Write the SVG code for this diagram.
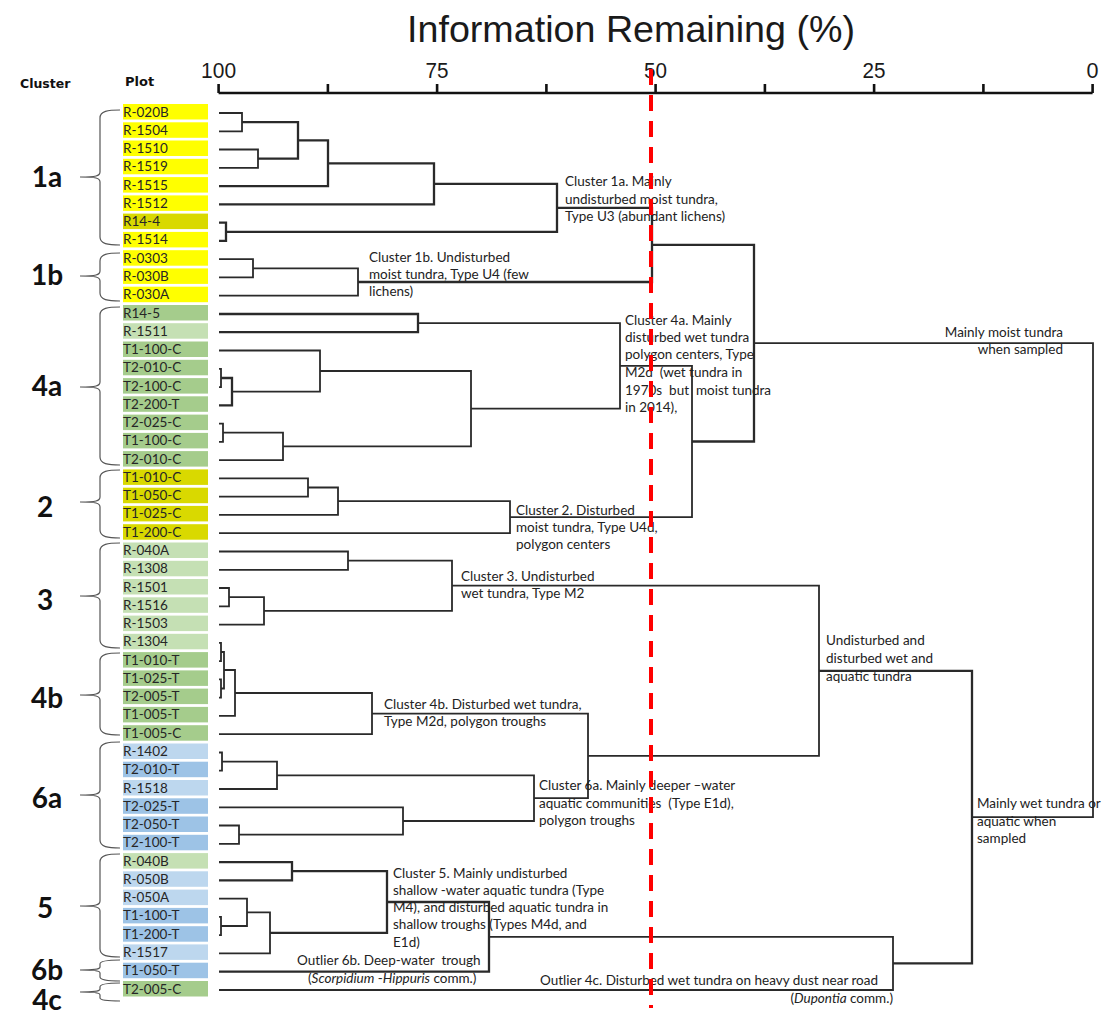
<svg xmlns="http://www.w3.org/2000/svg" width="1111" height="1015" viewBox="0 0 1111 1015">
<style>
.bg{fill:#ffffff}
.title{font-family:"Liberation Sans",Arial,sans-serif;font-size:37px;fill:#1a1a1a}
.tick{font-family:"Liberation Sans",Arial,sans-serif;font-size:22px;fill:#1a1a1a;text-anchor:middle}
.hdr{font-family:"DejaVu Sans",sans-serif;font-weight:bold;font-size:12.5px;fill:#111}
.cl{font-family:Lato,"Liberation Sans",sans-serif;font-weight:bold;font-size:28px;fill:#111;text-anchor:middle}
.brace{fill:none;stroke:#555;stroke-width:1.2}
.pl{font-family:Lato,"Liberation Sans",sans-serif;font-size:13.5px;fill:#262626}
.ann{font-family:Lato,"Liberation Sans",sans-serif;font-size:13.5px;fill:#222;white-space:pre}
.ln{fill:none;stroke:#2a2a2a;stroke-width:1.8}
.tk{stroke-width:2.3}
.red{fill:none;stroke:#ff0000;stroke-width:4;stroke-dasharray:16 10}
.Y{fill:#ffff00}.O{fill:#d9d900}.G{fill:#a5cc8c}.LG{fill:#c5e0b4}.B{fill:#9dc3e6}.LB{fill:#bdd7ee}
</style>
<rect class="bg" x="0" y="0" width="1111" height="1015"/>
<g id="axis">
<text class="title" x="407" y="42" textLength="448" lengthAdjust="spacingAndGlyphs">Information Remaining (%)</text>
<text class="tick" x="218.6" y="78" textLength="35" lengthAdjust="spacingAndGlyphs">100</text>
<text class="tick" x="437.1" y="78" textLength="23" lengthAdjust="spacingAndGlyphs">75</text>
<text class="tick" x="655.6" y="78" textLength="23" lengthAdjust="spacingAndGlyphs">50</text>
<text class="tick" x="874.1" y="78" textLength="23" lengthAdjust="spacingAndGlyphs">25</text>
<text class="tick" x="1092.6" y="78" textLength="12" lengthAdjust="spacingAndGlyphs">0</text>
<path d="M218.6 93 H1092.6 M218.6 84 V93 M327.9 84 V93 M437.1 84 V93 M546.4 84 V93 M655.6 84 V93 M764.9 84 V93 M874.1 84 V93 M983.4 84 V93 M1092.6 84 V93" fill="none" stroke="#111" stroke-width="2.6"/>
<text class="hdr" x="20" y="88">Cluster</text>
<text class="hdr" x="125" y="86" style="font-size:13px">Plot</text>
</g>
<g id="plots">
<g id="plot-0"><rect class="Y" x="123" y="104" width="85" height="15.5"/><text class="pl" x="123" y="116.5">R-020B</text></g>
<g id="plot-1"><rect class="Y" x="123" y="122.3" width="85" height="15.5"/><text class="pl" x="123" y="134.8">R-1504</text></g>
<g id="plot-2"><rect class="Y" x="123" y="140.5" width="85" height="15.5"/><text class="pl" x="123" y="153">R-1510</text></g>
<g id="plot-3"><rect class="Y" x="123" y="158.8" width="85" height="15.5"/><text class="pl" x="123" y="171.3">R-1519</text></g>
<g id="plot-4"><rect class="Y" x="123" y="177.1" width="85" height="15.5"/><text class="pl" x="123" y="189.6">R-1515</text></g>
<g id="plot-5"><rect class="Y" x="123" y="195.4" width="85" height="15.5"/><text class="pl" x="123" y="207.9">R-1512</text></g>
<g id="plot-6"><rect class="O" x="123" y="213.6" width="85" height="15.5"/><text class="pl" x="123" y="226.1">R14-4</text></g>
<g id="plot-7"><rect class="Y" x="123" y="231.9" width="85" height="15.5"/><text class="pl" x="123" y="244.4">R-1514</text></g>
<g id="plot-8"><rect class="Y" x="123" y="250.2" width="85" height="15.5"/><text class="pl" x="123" y="262.7">R-0303</text></g>
<g id="plot-9"><rect class="Y" x="123" y="268.4" width="85" height="15.5"/><text class="pl" x="123" y="280.9">R-030B</text></g>
<g id="plot-10"><rect class="Y" x="123" y="286.7" width="85" height="15.5"/><text class="pl" x="123" y="299.2">R-030A</text></g>
<g id="plot-11"><rect class="G" x="123" y="305" width="85" height="15.5"/><text class="pl" x="123" y="317.5">R14-5</text></g>
<g id="plot-12"><rect class="LG" x="123" y="323.2" width="85" height="15.5"/><text class="pl" x="123" y="335.7">R-1511</text></g>
<g id="plot-13"><rect class="G" x="123" y="341.5" width="85" height="15.5"/><text class="pl" x="123" y="354">T1-100-C</text></g>
<g id="plot-14"><rect class="G" x="123" y="359.8" width="85" height="15.5"/><text class="pl" x="123" y="372.3">T2-010-C</text></g>
<g id="plot-15"><rect class="G" x="123" y="378.1" width="85" height="15.5"/><text class="pl" x="123" y="390.6">T2-100-C</text></g>
<g id="plot-16"><rect class="G" x="123" y="396.3" width="85" height="15.5"/><text class="pl" x="123" y="408.8">T2-200-T</text></g>
<g id="plot-17"><rect class="G" x="123" y="414.6" width="85" height="15.5"/><text class="pl" x="123" y="427.1">T2-025-C</text></g>
<g id="plot-18"><rect class="G" x="123" y="432.9" width="85" height="15.5"/><text class="pl" x="123" y="445.4">T1-100-C</text></g>
<g id="plot-19"><rect class="G" x="123" y="451.1" width="85" height="15.5"/><text class="pl" x="123" y="463.6">T2-010-C</text></g>
<g id="plot-20"><rect class="O" x="123" y="469.4" width="85" height="15.5"/><text class="pl" x="123" y="481.9">T1-010-C</text></g>
<g id="plot-21"><rect class="O" x="123" y="487.7" width="85" height="15.5"/><text class="pl" x="123" y="500.2">T1-050-C</text></g>
<g id="plot-22"><rect class="O" x="123" y="505.9" width="85" height="15.5"/><text class="pl" x="123" y="518.4">T1-025-C</text></g>
<g id="plot-23"><rect class="O" x="123" y="524.2" width="85" height="15.5"/><text class="pl" x="123" y="536.7">T1-200-C</text></g>
<g id="plot-24"><rect class="LG" x="123" y="542.5" width="85" height="15.5"/><text class="pl" x="123" y="555">R-040A</text></g>
<g id="plot-25"><rect class="LG" x="123" y="560.8" width="85" height="15.5"/><text class="pl" x="123" y="573.3">R-1308</text></g>
<g id="plot-26"><rect class="LG" x="123" y="579" width="85" height="15.5"/><text class="pl" x="123" y="591.5">R-1501</text></g>
<g id="plot-27"><rect class="LG" x="123" y="597.3" width="85" height="15.5"/><text class="pl" x="123" y="609.8">R-1516</text></g>
<g id="plot-28"><rect class="LG" x="123" y="615.6" width="85" height="15.5"/><text class="pl" x="123" y="628.1">R-1503</text></g>
<g id="plot-29"><rect class="LG" x="123" y="633.8" width="85" height="15.5"/><text class="pl" x="123" y="646.3">R-1304</text></g>
<g id="plot-30"><rect class="G" x="123" y="652.1" width="85" height="15.5"/><text class="pl" x="123" y="664.6">T1-010-T</text></g>
<g id="plot-31"><rect class="G" x="123" y="670.4" width="85" height="15.5"/><text class="pl" x="123" y="682.9">T1-025-T</text></g>
<g id="plot-32"><rect class="G" x="123" y="688.6" width="85" height="15.5"/><text class="pl" x="123" y="701.1">T2-005-T</text></g>
<g id="plot-33"><rect class="G" x="123" y="706.9" width="85" height="15.5"/><text class="pl" x="123" y="719.4">T1-005-T</text></g>
<g id="plot-34"><rect class="G" x="123" y="725.2" width="85" height="15.5"/><text class="pl" x="123" y="737.7">T1-005-C</text></g>
<g id="plot-35"><rect class="LB" x="123" y="743.5" width="85" height="15.5"/><text class="pl" x="123" y="756">R-1402</text></g>
<g id="plot-36"><rect class="B" x="123" y="761.7" width="85" height="15.5"/><text class="pl" x="123" y="774.2">T2-010-T</text></g>
<g id="plot-37"><rect class="LB" x="123" y="780" width="85" height="15.5"/><text class="pl" x="123" y="792.5">R-1518</text></g>
<g id="plot-38"><rect class="B" x="123" y="798.3" width="85" height="15.5"/><text class="pl" x="123" y="810.8">T2-025-T</text></g>
<g id="plot-39"><rect class="B" x="123" y="816.5" width="85" height="15.5"/><text class="pl" x="123" y="829">T2-050-T</text></g>
<g id="plot-40"><rect class="B" x="123" y="834.8" width="85" height="15.5"/><text class="pl" x="123" y="847.3">T2-100-T</text></g>
<g id="plot-41"><rect class="LG" x="123" y="853.1" width="85" height="15.5"/><text class="pl" x="123" y="865.6">R-040B</text></g>
<g id="plot-42"><rect class="LB" x="123" y="871.3" width="85" height="15.5"/><text class="pl" x="123" y="883.8">R-050B</text></g>
<g id="plot-43"><rect class="LB" x="123" y="889.6" width="85" height="15.5"/><text class="pl" x="123" y="902.1">R-050A</text></g>
<g id="plot-44"><rect class="B" x="123" y="907.9" width="85" height="15.5"/><text class="pl" x="123" y="920.4">T1-100-T</text></g>
<g id="plot-45"><rect class="B" x="123" y="926.2" width="85" height="15.5"/><text class="pl" x="123" y="938.7">T1-200-T</text></g>
<g id="plot-46"><rect class="LB" x="123" y="944.4" width="85" height="15.5"/><text class="pl" x="123" y="956.9">R-1517</text></g>
<g id="plot-47"><rect class="B" x="123" y="962.7" width="85" height="15.5"/><text class="pl" x="123" y="975.2">T1-050-T</text></g>
<g id="plot-48"><rect class="G" x="123" y="981" width="85" height="15.5"/><text class="pl" x="123" y="993.5">T2-005-C</text></g>
</g>
<g id="clusters">
<g id="cluster-1a"><path class="brace" d="M120,110 C108,110 100,111 100,118 V172 C100,176 96,177 80,177 C96,177 100,178 100,182 V237 C100,244 108,245 120,245"/><text class="cl" x="47" y="187">1a</text></g>
<g id="cluster-1b"><path class="brace" d="M120,253 C108,253 100,254 100,261 V271 C100,275 96,276 80,276 C96,276 100,277 100,281 V293 C100,300 108,301 120,301"/><text class="cl" x="47" y="285">1b</text></g>
<g id="cluster-4a"><path class="brace" d="M120,307 C108,307 100,308 100,315 V382 C100,386 96,387 80,387 C96,387 100,388 100,392 V457 C100,464 108,465 120,465"/><text class="cl" x="47" y="396">4a</text></g>
<g id="cluster-2"><path class="brace" d="M120,470 C108,470 100,471 100,478 V497 C100,501 96,502 80,502 C96,502 100,503 100,507 V530 C100,537 108,538 120,538"/><text class="cl" x="45" y="517">2</text></g>
<g id="cluster-3"><path class="brace" d="M120,543 C108,543 100,544 100,551 V591 C100,595 96,596 80,596 C96,596 100,597 100,601 V640 C100,647 108,648 120,648"/><text class="cl" x="45" y="610">3</text></g>
<g id="cluster-4b"><path class="brace" d="M120,653 C108,653 100,654 100,661 V690 C100,694 96,695 80,695 C96,695 100,696 100,700 V727 C100,734 108,735 120,735"/><text class="cl" x="47" y="708">4b</text></g>
<g id="cluster-6a"><path class="brace" d="M120,742 C108,742 100,743 100,750 V790 C100,794 96,795 80,795 C96,795 100,796 100,800 V840 C100,847 108,848 120,848"/><text class="cl" x="47" y="808">6a</text></g>
<g id="cluster-5"><path class="brace" d="M120,854 C108,854 100,855 100,862 V901 C100,905 96,906 80,906 C96,906 100,907 100,911 V949 C100,956 108,957 120,957"/><text class="cl" x="45" y="918">5</text></g>
<g id="cluster-6b"><path class="brace" d="M120,960 C106,960 100,961 100,964 V967 C100,969 96,970 80,970 C96,970 100,971 100,973 V977 C100,980 106,981 120,981"/><text class="cl" x="47" y="980">6b</text></g>
<g id="cluster-4c"><path class="brace" d="M120,983 C106,983 100,984 100,987 V989 C100,991 96,992 80,992 C96,992 100,993 100,995 V998 C100,1000 106,1001 120,1001"/><text class="cl" x="47" y="1010">4c</text></g>
</g>
<g id="connectors">
<path class="ln" d="M219 113 H242 V131.3 H219"/>
<path class="ln" d="M219 149.5 H258 V167.8 H219"/>
<path class="ln tk" d="M242 122.2 H298 V158.7 H258"/>
<path class="ln tk" d="M298 140.4 H328 V186.1 H219"/>
<path class="ln tk" d="M328 163.3 H434 V204.4 H219"/>
<path class="ln tk" d="M219 222.6 H226 V240.9 H219"/>
<path class="ln tk" d="M434 183.8 H557 V231.8 H226"/>
<path class="ln" d="M219 259.2 H253 V277.4 H219"/>
<path class="ln" d="M253 268.3 H358 V295.7 H219"/>
<path class="ln tk" d="M557 207.8 H652 V282 H358"/>
<path class="ln tk" d="M219 314 H418 V332.2 H219"/>
<path class="ln" d="M219 368.8 H221 V387.1 H219"/>
<path class="ln tk" d="M221 378 H232 V405.3 H219"/>
<path class="ln" d="M219 350.5 H320 V391.6 H232"/>
<path class="ln" d="M219 423.6 H223 V441.9 H219"/>
<path class="ln" d="M223 432.7 H283 V460.1 H219"/>
<path class="ln" d="M320 371 H471 V446.4 H283"/>
<path class="ln" d="M418 323.1 H620 V408.7 H471"/>
<path class="ln" d="M219 478.4 H308 V496.7 H219"/>
<path class="ln" d="M308 487.5 H338 V514.9 H219"/>
<path class="ln" d="M338 501.2 H510 V533.2 H219"/>
<path class="ln" d="M620 365.9 H692 V517.2 H510"/>
<path class="ln tk" d="M652 244.9 H754 V441.5 H692"/>
<path class="ln" d="M219 551.5 H348 V569.8 H219"/>
<path class="ln" d="M219 588 H229 V606.3 H219"/>
<path class="ln" d="M229 597.2 H264 V624.6 H219"/>
<path class="ln" d="M348 560.6 H452 V610.9 H264"/>
<path class="ln" d="M219 642.8 H221 V661.1 H219"/>
<path class="ln" d="M219 679.4 H221 V697.6 H219"/>
<path class="ln" d="M221 652 H224 V688.5 H221"/>
<path class="ln" d="M224 670 H235 V715.9 H219"/>
<path class="ln" d="M235 693 H372 V734.2 H219"/>
<path class="ln" d="M219 752.5 H222 V770.7 H219"/>
<path class="ln" d="M222 761.6 H277 V789 H219"/>
<path class="ln" d="M219 825.5 H239 V843.8 H219"/>
<path class="ln" d="M219 807.3 H403 V834.7 H239"/>
<path class="ln" d="M277 775.3 H534 V821 H403"/>
<path class="ln" d="M372 713.6 H588 V798.2 H534"/>
<path class="ln" d="M452 585.7 H819 V755.9 H588"/>
<path class="ln tk" d="M219 862.1 H292 V880.3 H219"/>
<path class="ln" d="M219 916.9 H221 V935.2 H219"/>
<path class="ln" d="M219 898.6 H247 V926 H221"/>
<path class="ln" d="M247 912.3 H270 V953.4 H219"/>
<path class="ln tk" d="M292 871.2 H387 V932.9 H270"/>
<path class="ln tk" d="M387 902 H489 V971.7 H219"/>
<path class="ln" d="M489 936.9 H893 V990 H219"/>
<path class="ln tk" d="M819 670.8 H972 V963.4 H893"/>
<path class="ln" d="M754 343.2 H1093 V817.1 H972"/>
</g>
<g id="notes">
<g id="note-1a"><text class="ann"><tspan x="565" y="186">Cluster 1a. Mainly</tspan><tspan x="565" y="203.5">undisturbed moist tundra,</tspan><tspan x="565" y="221">Type U3 (abundant lichens)</tspan></text></g>
<g id="note-1b"><text class="ann"><tspan x="369" y="262">Cluster 1b. Undisturbed</tspan><tspan x="369" y="279">moist tundra, Type U4 (few</tspan><tspan x="369" y="296">lichens)</tspan></text></g>
<g id="note-4a"><text class="ann"><tspan x="625" y="325">Cluster 4a. Mainly</tspan><tspan x="625" y="342">disturbed wet tundra</tspan><tspan x="625" y="359">polygon centers, Type</tspan><tspan x="625" y="377">M2d  (wet tundra in</tspan><tspan x="625" y="395">1970s  but  moist tundra</tspan><tspan x="625" y="412">in 2014),</tspan></text></g>
<g id="note-2"><text class="ann"><tspan x="516" y="515">Cluster 2. Disturbed</tspan><tspan x="516" y="532">moist tundra, Type U4d,</tspan><tspan x="516" y="549">polygon centers</tspan></text></g>
<g id="note-3"><text class="ann"><tspan x="461" y="581">Cluster 3. Undisturbed</tspan><tspan x="461" y="598">wet tundra, Type M2</tspan></text></g>
<g id="note-4b"><text class="ann"><tspan x="384" y="709">Cluster 4b. Disturbed wet tundra,</tspan><tspan x="384" y="726">Type M2d, polygon troughs</tspan></text></g>
<g id="note-6a"><text class="ann"><tspan x="539" y="790">Cluster 6a. Mainly deeper –water</tspan><tspan x="539" y="808">aquatic communities  (Type E1d),</tspan><tspan x="539" y="825">polygon troughs</tspan></text></g>
<g id="note-5"><text class="ann"><tspan x="393" y="878">Cluster 5. Mainly undisturbed</tspan><tspan x="393" y="895">shallow -water aquatic tundra (Type</tspan><tspan x="393" y="912">M4), and disturbed aquatic tundra in</tspan><tspan x="393" y="929">shallow troughs (Types M4d, and</tspan><tspan x="393" y="947">E1d)</tspan></text></g>
<g id="note-6b"><text class="ann" x="297" y="965">Outlier 6b. Deep-water  trough</text><text class="ann" x="308" y="983">(<tspan font-style="italic">Scorpidium</tspan> -<tspan font-style="italic">Hippuris</tspan> comm.)</text></g>
<g id="note-4c"><text class="ann" x="540" y="985">Outlier 4c. Disturbed wet tundra on heavy dust near road</text><text class="ann" x="893" y="1003" text-anchor="end">(<tspan font-style="italic">Dupontia</tspan> comm.)</text></g>
<g id="note-moist"><text class="ann" text-anchor="end"><tspan x="1063" y="337">Mainly moist tundra</tspan><tspan x="1063" y="354">when sampled</tspan></text></g>
<g id="note-wetaq"><text class="ann"><tspan x="826" y="645">Undisturbed and</tspan><tspan x="826" y="663">disturbed wet and</tspan><tspan x="826" y="681">aquatic tundra</tspan></text></g>
<g id="note-wet"><text class="ann"><tspan x="977" y="808">Mainly wet tundra or</tspan><tspan x="977" y="826">aquatic when</tspan><tspan x="977" y="843">sampled</tspan></text></g>
</g>
<line id="cut-line" class="red" x1="651" y1="69" x2="651" y2="1008"/>
</svg>
